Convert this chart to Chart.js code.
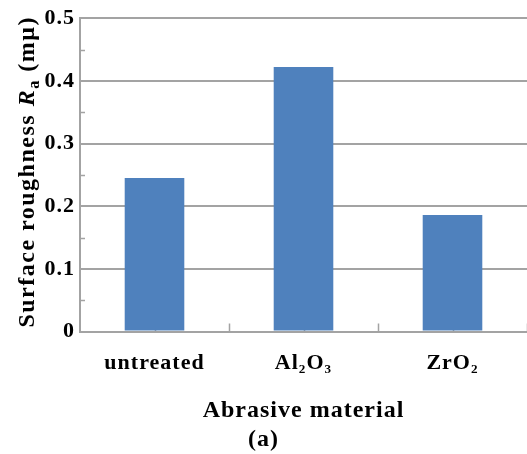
<!DOCTYPE html>
<html>
<head>
<meta charset="utf-8">
<script src="https://cdn.jsdelivr.net/npm/chart.js@4.4.1/dist/chart.umd.min.js"></script>
<style>
  html, body { margin: 0; padding: 0; background: #ffffff; }
  #wrap { width: 527px; height: 454px; position: relative; }
</style>
</head>
<body>
<div id="wrap"><canvas id="c" width="527" height="454"></canvas></div>
<script>
// ---- data ----
const categories = ['untreated', 'Al\u2082O\u2083', 'ZrO\u2082'];
const roughness = [0.245, 0.422, 0.186];
const yTickValues = [0, 0.1, 0.2, 0.3, 0.4, 0.5];
const yTickLabels = ['0', '0.1', '0.2', '0.3', '0.4', '0.5'];
const yMinorValues = [0.05, 0.15, 0.25, 0.35, 0.45];
const xAxisTitle = 'Abrasive material';
const figureLabel = '(a)';
const yTitleParts = [
  { text: 'Surface roughness ', style: 'bold', scale: 1, shift: 0 },
  { text: 'R', style: 'italic bold', scale: 1, shift: 0 },
  { text: 'a', style: 'bold', scale: 0.68, shift: 0.22 },
  { text: ' (m\u03bc)', style: 'bold', scale: 1, shift: 0 }
];

const FONT = '"Liberation Serif", "Times New Roman", "DejaVu Serif", serif';
const GRID = '#a3a3a3';

const spacingPlugin = {
  id: 'spacing',
  beforeDraw(chart) { chart.ctx.letterSpacing = '1px'; },
  afterDraw(chart) { chart.ctx.letterSpacing = '0px'; }
};

const innerTicks = {
  id: 'innerTicks',
  beforeDatasetsDraw(chart) {
    const ctx = chart.ctx, x = chart.scales.x, y = chart.scales.y;
    const area = chart.chartArea;
    ctx.save();
    ctx.strokeStyle = GRID;
    ctx.lineWidth = 1.5;
    ctx.beginPath();
    yMinorValues.forEach(v => {
      const py = Math.round(y.getPixelForValue(v)) + 0.5;
      ctx.moveTo(area.left, py);
      ctx.lineTo(area.left + 5, py);
    });
    for (let i = 0; i < categories.length; i++) {
      const c = x.getPixelForValue(i);
      const half = (x.getPixelForValue(1) - x.getPixelForValue(0)) / 2;
      [c, c + half].forEach(px => {
        const rx = Math.round(px) + 0.5;
        ctx.moveTo(rx, area.bottom);
        ctx.lineTo(rx, area.bottom - 8);
      });
    }
    ctx.stroke();
    ctx.restore();
  }
};

const yTitlePlugin = {
  id: 'yTitle',
  afterDraw(chart) {
    const ctx = chart.ctx, area = chart.chartArea;
    const size = 24;
    ctx.save();
    ctx.letterSpacing = '1.5px';
    ctx.fillStyle = '#000';
    ctx.textBaseline = 'alphabetic';
    let total = 0;
    yTitleParts.forEach(p => {
      ctx.font = p.style + ' ' + (size * p.scale) + 'px ' + FONT;
      p.w = ctx.measureText(p.text).width;
      total += p.w;
    });
    const cy = (area.top + area.bottom) / 2 - 3;
    ctx.translate(34, cy);
    ctx.rotate(-Math.PI / 2);
    yTitlePartsDraw(ctx, -total / 2, size);
    ctx.restore();
  }
};
function yTitlePartsDraw(ctx, cx, size) {
  yTitleParts.forEach(p => {
    ctx.font = p.style + ' ' + (size * p.scale) + 'px ' + FONT;
    ctx.fillText(p.text, cx, p.shift * size);
    cx += p.w;
  });
}

new Chart(document.getElementById('c'), {
  type: 'bar',
  data: {
    labels: categories,
    datasets: [{
      data: roughness,
      backgroundColor: '#4f81bd',
      borderWidth: 0,
      categoryPercentage: 1.0,
      barPercentage: 0.4
    }]
  },
  plugins: [spacingPlugin, innerTicks, yTitlePlugin],
  options: {
    responsive: false,
    animation: false,
    devicePixelRatio: 1,
    layout: { padding: { top: 18, right: 0, bottom: 0, left: 0 } },
    plugins: {
      legend: { display: false },
      tooltip: { enabled: false },
      title: {
        display: true,
        position: 'bottom',
        text: figureLabel,
        color: '#000',
        font: { family: FONT, size: 24, weight: 'bold', lineHeight: 1.2 },
        padding: { top: 0, bottom: 0 }
      }
    },
    scales: {
      x: {
        grid: { display: false, drawTicks: false },
        border: { display: true, color: GRID, width: 2 },
        ticks: {
          color: '#000',
          padding: 19,
          maxRotation: 0,
          font: { family: FONT, size: 22, weight: 'bold', lineHeight: 1.2 }
        },
        title: {
          display: true,
          text: xAxisTitle,
          color: '#000',
          font: { family: FONT, size: 24, weight: 'bold', lineHeight: 1.2 },
          padding: { top: 0.5, bottom: 0 }
        }
      },
      y: {
        min: 0,
        max: 0.5,
        afterFit(scale) { scale.width = 80; },
        afterBuildTicks(scale) { scale.ticks = yTickValues.map(v => ({ value: v })); },
        grid: { color: GRID, lineWidth: 2, drawTicks: false },
        border: { display: true, color: GRID, width: 2 },
        ticks: {
          color: '#000',
          padding: 5,
          font: { family: FONT, size: 22, weight: 'bold', lineHeight: 1.2 },
          callback: (v) => {
            const i = yTickValues.findIndex(t => Math.abs(t - v) < 1e-9);
            return i >= 0 ? yTickLabels[i] : '';
          }
        }
      }
    }
  }
});
</script>
</body>
</html>
